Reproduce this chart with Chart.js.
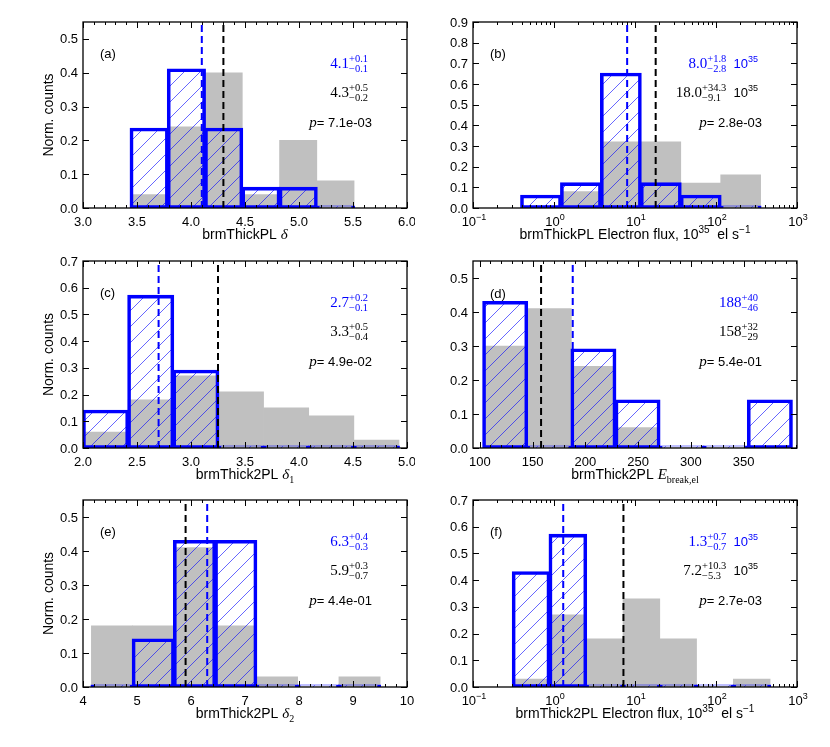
<!DOCTYPE html>
<html><head><meta charset="utf-8">
<script src="https://cdn.jsdelivr.net/npm/chart.js@4.4.0/dist/chart.umd.min.js"></script>
<style>
html,body{margin:0;padding:0;background:#fff;}
#wrap{position:relative;width:830px;height:747px;background:#fff;}
canvas{position:absolute;}
</style></head><body><div id="wrap">
<canvas id="pa" width="415" height="249" style="left:0;top:0;width:415px;height:249px"></canvas>
<canvas id="pb" width="415" height="249" style="left:415px;top:0;width:415px;height:249px"></canvas>
<canvas id="pc" width="415" height="249" style="left:0;top:249px;width:415px;height:249px"></canvas>
<canvas id="pd" width="415" height="249" style="left:415px;top:249px;width:415px;height:249px"></canvas>
<canvas id="pe" width="415" height="259" style="left:0;top:488px;width:415px;height:259px"></canvas>
<canvas id="pf" width="415" height="259" style="left:415px;top:488px;width:415px;height:259px"></canvas>
</div>
<script>
// ================= DATA =================
// (a) brmThickPL delta
const edgesA = [3.44, 3.785, 4.13, 4.475, 4.82, 5.165, 5.51];
const allA = [0.04, 0.24, 0.40, 0.04, 0.20, 0.08];
const selA = [0.235, 0.41, 0.235, 0.06, 0.06, 0];
const medianSelA = 4.1, medianAllA = 4.3;
const xTicksA = [3.0, 3.5, 4.0, 4.5, 5.0, 5.5, 6.0];
const xTickLabelsA = ['3.0','3.5','4.0','4.5','5.0','5.5','6.0'];
const yTicksA = [0, 0.1, 0.2, 0.3, 0.4, 0.5];
const statSelA = ['4.1', '+0.1', '\u22120.1'];
const statAllA = ['4.3', '+0.5', '\u22120.2'];
const pValA = '7.1e-03';

// (b) brmThickPL electron flux (log10 bin edges)
const logEdgesB = [-0.407, 0.086, 0.579, 1.072, 1.565, 2.058, 2.551];
const allB = [0, 0.08, 0.32, 0.32, 0.12, 0.16];
const selB = [0.06, 0.12, 0.65, 0.12, 0.06, 0];
const medianSelB = 8.0, medianAllB = 18.0;
const xTicksB = [0.1, 1, 10, 100, 1000];
const xTickExpB = ['\u22121', '0', '1', '2', '3'];
const yTicksB = [0, 0.1, 0.2, 0.3, 0.4, 0.5, 0.6, 0.7, 0.8, 0.9];
const statSelB = ['8.0', '+1.8', '\u22122.8'];
const statAllB = ['18.0', '+34.3', '\u22129.1'];
const pValB = '2.8e-03';

// (c) brmThick2PL delta_1
const edgesC = [2.0, 2.418, 2.836, 3.254, 3.672, 4.09, 4.508, 4.926];
const allC = [0.06, 0.18, 0.27, 0.21, 0.15, 0.12, 0.03];
const selC = [0.14, 0.57, 0.29, 0, 0, 0, 0];
const medianSelC = 2.7, medianAllC = 3.25;
const xTicksC = [2.0, 2.5, 3.0, 3.5, 4.0, 4.5, 5.0];
const xTickLabelsC = ['2.0','2.5','3.0','3.5','4.0','4.5','5.0'];
const yTicksC = [0, 0.1, 0.2, 0.3, 0.4, 0.5, 0.6, 0.7];
const statSelC = ['2.7', '+0.2', '\u22120.1'];
const statAllC = ['3.3', '+0.5', '\u22120.4'];
const pValC = '4.9e-02';

// (d) brmThick2PL E_break,el
const edgesD = [103.1, 144.9, 186.7, 228.5, 270.3, 312.1, 353.9, 395.7];
const allD = [0.30, 0.41, 0.24, 0.06, 0, 0, 0];
const selD = [0.43, 0, 0.29, 0.14, 0, 0, 0.14];
const medianSelD = 188, medianAllD = 158;
const xTicksD = [100, 150, 200, 250, 300, 350];
const xTickLabelsD = ['100','150','200','250','300','350'];
const yTicksD = [0, 0.1, 0.2, 0.3, 0.4, 0.5];
const statSelD = ['188', '+40', '\u221246'];
const statAllD = ['158', '+32', '\u221229'];
const pValD = '5.4e-01';

// (e) brmThick2PL delta_2
const edgesE = [4.155, 4.919, 5.683, 6.447, 7.211, 7.975, 8.739, 9.503];
const allE = [0.18, 0.18, 0.41, 0.18, 0.03, 0, 0.03];
const selE = [0, 0.14, 0.43, 0.43, 0, 0, 0];
const medianSelE = 6.3, medianAllE = 5.9;
const xTicksE = [4, 5, 6, 7, 8, 9, 10];
const xTickLabelsE = ['4','5','6','7','8','9','10'];
const yTicksE = [0, 0.1, 0.2, 0.3, 0.4, 0.5];
const statSelE = ['6.3', '+0.4', '\u22120.3'];
const statAllE = ['5.9', '+0.3', '\u22120.7'];
const pValE = '4.4e-01';

// (f) brmThick2PL electron flux (log10 bin edges)
const logEdgesF = [-0.51, -0.056, 0.398, 0.852, 1.306, 1.76, 2.214, 2.668];
const allF = [0.03, 0.27, 0.18, 0.33, 0.18, 0, 0.03];
const selF = [0.43, 0.57, 0, 0, 0, 0, 0];
const medianSelF = 1.3, medianAllF = 7.2;
const xTicksF = [0.1, 1, 10, 100, 1000];
const xTickExpF = ['\u22121', '0', '1', '2', '3'];
const yTicksF = [0, 0.1, 0.2, 0.3, 0.4, 0.5, 0.6, 0.7];
const statSelF = ['1.3', '+0.7', '\u22120.7'];
const statAllF = ['7.2', '+10.3', '\u22125.3'];
const pValF = '2.7e-03';

const panelLetters = ['(a)', '(b)', '(c)', '(d)', '(e)', '(f)'];
const yAxisTitle = 'Norm. counts';

// ================= STYLE / LAYOUT =================
const SANS = '"Liberation Sans", Arial, Helvetica, sans-serif';
const SERIF = '"Liberation Serif", "Times New Roman", serif';
const F = {
  tick: '13px ' + SANS, tickSup: '9px ' + SANS,
  title: '14px ' + SANS, titleSup: '10px ' + SANS,
  mathI: 'italic 15px ' + SERIF, mathSub: '10px ' + SERIF,
  num: '15px ' + SERIF, script: '10.5px ' + SERIF,
  ann: '13px ' + SANS, annSup: '9px ' + SANS,
  pI: 'italic 15px ' + SERIF
};
const BLUE = '#0000ff', GREY = '#c0c0c0';

function titleDelta(prefix, sub) {
  const r = [{t: prefix, font: F.title}, {t: '\u03b4', font: F.mathI}];
  if (sub) r.push({t: sub, font: F.mathSub, dy: 4});
  return r;
}
function titleFlux(prefix) {
  return [{t: prefix + ' Electron flux, 10', font: F.title}, {t: '35', font: F.titleSup, dy: -6},
          {t: '  el s', font: F.title}, {t: '\u22121', font: F.titleSup, dy: -6}];
}

const panels = [
  {id: 'pa', log: false, xmin: 3.0, xmax: 6.0, ymax: 0.55, edges: edgesA, all: allA, sel: selA,
   medSel: medianSelA, medAll: medianAllA, xTicks: xTicksA, xLabels: xTickLabelsA, minor: 0.1, yTicks: yTicksA,
   statSel: statSelA, statAll: statAllA, pVal: pValA, flux: false, letter: panelLetters[0],
   title: titleDelta('brmThickPL ', ''), pad: {left: 83, top: 22, right: 8, bottom: 41}, ylabel: true},
  {id: 'pb', log: true, xmin: 0.1, xmax: 1000, ymax: 0.9, edges: logEdgesB, all: allB, sel: selB,
   medSel: medianSelB, medAll: medianAllB, xTicks: xTicksB, xExp: xTickExpB, yTicks: yTicksB,
   statSel: statSelB, statAll: statAllB, pVal: pValB, flux: true, letter: panelLetters[1],
   title: titleFlux('brmThickPL'), pad: {left: 58, top: 22, right: 33, bottom: 41}, ylabel: false},
  {id: 'pc', log: false, xmin: 2.0, xmax: 5.0, ymax: 0.7, edges: edgesC, all: allC, sel: selC,
   medSel: medianSelC, medAll: medianAllC, xTicks: xTicksC, xLabels: xTickLabelsC, minor: 0.1, yTicks: yTicksC,
   statSel: statSelC, statAll: statAllC, pVal: pValC, flux: false, letter: panelLetters[2],
   title: titleDelta('brmThick2PL ', '1'), pad: {left: 83, top: 12, right: 8, bottom: 50}, ylabel: true},
  {id: 'pd', log: false, xmin: 93.5, xmax: 400.5, ymax: 0.55, edges: edgesD, all: allD, sel: selD,
   medSel: medianSelD, medAll: medianAllD, xTicks: xTicksD, xLabels: xTickLabelsD, minor: 10, yTicks: yTicksD,
   statSel: statSelD, statAll: statAllD, pVal: pValD, flux: false, letter: panelLetters[3], letterDy: 1,
   title: [{t: 'brmThick2PL ', font: F.title}, {t: 'E', font: F.mathI}, {t: 'break,el', font: F.mathSub, dy: 4}],
   pad: {left: 58, top: 12, right: 33, bottom: 50}, ylabel: false},
  {id: 'pe', log: false, xmin: 4, xmax: 10, ymax: 0.55, edges: edgesE, all: allE, sel: selE,
   medSel: medianSelE, medAll: medianAllE, xTicks: xTicksE, xLabels: xTickLabelsE, minor: 0.2, yTicks: yTicksE,
   statSel: statSelE, statAll: statAllE, pVal: pValE, flux: false, letter: panelLetters[4],
   title: titleDelta('brmThick2PL ', '2'), pad: {left: 83, top: 12, right: 8, bottom: 60}, ylabel: true},
  {id: 'pf', log: true, xmin: 0.1, xmax: 1000, ymax: 0.7, edges: logEdgesF, all: allF, sel: selF,
   medSel: medianSelF, medAll: medianAllF, xTicks: xTicksF, xExp: xTickExpF, yTicks: yTicksF,
   statSel: statSelF, statAll: statAllF, pVal: pValF, flux: true, letter: panelLetters[5],
   title: titleFlux('brmThick2PL'), pad: {left: 58, top: 12, right: 33, bottom: 60}, ylabel: false}
];

// ================= HELPERS =================
function runsWidth(ctx, runs) {
  let w = 0;
  for (const r of runs) {
    ctx.font = r.font;
    if (r.stack) w += Math.max(ctx.measureText(r.sup).width, ctx.measureText(r.sub).width);
    else w += ctx.measureText(r.t).width;
  }
  return w;
}
function drawRuns(ctx, runs, x, y, align, color) {
  const w = runsWidth(ctx, runs);
  let cx = align === 'right' ? x - w : (align === 'center' ? x - w / 2 : x);
  ctx.fillStyle = color; ctx.textBaseline = 'alphabetic'; ctx.textAlign = 'left';
  for (const r of runs) {
    ctx.font = r.font;
    if (r.stack) {
      ctx.fillText(r.sup, cx, y - 6);
      ctx.fillText(r.sub, cx, y + 4);
      cx += Math.max(ctx.measureText(r.sup).width, ctx.measureText(r.sub).width);
    } else {
      ctx.fillText(r.t, cx, y + (r.dy || 0));
      cx += ctx.measureText(r.t).width;
    }
  }
}
function statRuns(stat, flux) {
  const r = [{t: stat[0], font: F.num}, {stack: true, sup: stat[1], sub: stat[2], font: F.script}];
  if (flux) { r.push({t: '  10', font: F.ann}); r.push({t: '35', font: F.annSup, dy: -6}); }
  return r;
}
function makeHatch(ctx) {
  const c = document.createElement('canvas'); c.width = 16; c.height = 16;
  const g = c.getContext('2d');
  g.strokeStyle = 'rgba(0,0,255,0.75)'; g.lineWidth = 0.8;
  for (const x0 of [-16, 0, 16]) { g.beginPath(); g.moveTo(x0, 16); g.lineTo(x0 + 16, 0); g.stroke(); }
  return ctx.createPattern(c, 'repeat');
}

const decorPlugin = {
  id: 'decor',
  afterDraw(chart) {
    const s = chart.config.options.plugins.decor.spec;
    const ctx = chart.ctx, a = chart.chartArea;
    const xs = chart.scales.x, ys = chart.scales.y;
    ctx.save();
    // frame
    ctx.strokeStyle = '#000'; ctx.lineWidth = 1.3;
    ctx.strokeRect(a.left, a.top, a.right - a.left, a.bottom - a.top);
    // ticks
    ctx.lineWidth = 1;
    const vline = (p, len) => {
      ctx.beginPath(); ctx.moveTo(p, a.bottom); ctx.lineTo(p, a.bottom - len);
      ctx.moveTo(p, a.top); ctx.lineTo(p, a.top + len); ctx.stroke();
    };
    const hline = (p, len) => {
      ctx.beginPath(); ctx.moveTo(a.left, p); ctx.lineTo(a.left + len, p);
      ctx.moveTo(a.right, p); ctx.lineTo(a.right - len, p); ctx.stroke();
    };
    for (const v of s.xTicks) vline(Math.round(xs.getPixelForValue(v)) + 0.5, 6);
    if (s.log) {
      for (let d = -1; d < 3; d++) for (let m = 2; m <= 9; m++) vline(Math.round(xs.getPixelForValue(m * Math.pow(10, d))) + 0.5, 3);
    } else {
      const start = Math.ceil(s.xmin / s.minor - 1e-6);
      const end = Math.floor(s.xmax / s.minor + 1e-6);
      for (let k = start; k <= end; k++) vline(Math.round(xs.getPixelForValue(k * s.minor)) + 0.5, 3);
    }
    for (const v of s.yTicks) hline(Math.round(ys.getPixelForValue(v)) + 0.5, 6);

    // y tick labels
    ctx.fillStyle = '#000'; ctx.font = F.tick; ctx.textAlign = 'right'; ctx.textBaseline = 'middle';
    for (const v of s.yTicks) ctx.fillText(v.toFixed(1), a.left - 5, ys.getPixelForValue(v) + 1);
    // x tick labels
    if (s.log) {
      s.xTicks.forEach((v, i) => {
        const runs = [{t: '10', font: F.tick}, {t: s.xExp[i], font: F.tickSup, dy: -6}];
        drawRuns(ctx, runs, xs.getPixelForValue(v) + 1, a.bottom + 18, 'center', '#000');
      });
    } else {
      ctx.textAlign = 'center'; ctx.textBaseline = 'alphabetic'; ctx.font = F.tick;
      s.xTicks.forEach((v, i) => ctx.fillText(s.xLabels[i], xs.getPixelForValue(v), a.bottom + 18));
    }
    // x title
    drawRuns(ctx, s.title, (a.left + a.right) / 2, a.bottom + 31, 'center', '#000');
    // y title
    if (s.ylabel) {
      ctx.save(); ctx.translate(49, (a.top + a.bottom) / 2); ctx.rotate(-Math.PI / 2);
      ctx.font = F.title; ctx.textAlign = 'center'; ctx.textBaseline = 'middle'; ctx.fillStyle = '#000';
      ctx.fillText(yAxisTitle, 0, 0); ctx.restore();
    }
    // panel letter
    ctx.font = F.ann; ctx.textAlign = 'left'; ctx.textBaseline = 'middle'; ctx.fillStyle = '#000';
    ctx.fillText(s.letter, a.left + 17, a.top + 32 + (s.letterDy || 0));
    // stats
    drawRuns(ctx, statRuns(s.statSel, s.flux), a.left + 285, a.top + 46, 'right', BLUE);
    drawRuns(ctx, statRuns(s.statAll, s.flux), a.left + 285, a.top + 75, 'right', '#000');
    drawRuns(ctx, [{t: 'p', font: F.pI}, {t: '= ' + s.pVal, font: F.ann}], a.left + 289, a.top + 105, 'right', '#000');
    ctx.restore();
  }
};

// ================= BUILD CHARTS =================
for (const s of panels) {
  const canvas = document.getElementById(s.id);
  const ctx = canvas.getContext('2d');
  const centers = s.edges.slice(0, -1).map((l, i) => {
    const r = s.edges[i + 1];
    return s.log ? Math.pow(10, (l + r) / 2) : (l + r) / 2;
  });
  const twoTicks = sc => { sc.ticks = [{value: sc.min}, {value: sc.max}]; };
  new Chart(ctx, {
    type: 'bar',
    data: {
      datasets: [
        {type: 'line', label: 'median (selected)', data: [{x: s.medSel, y: 0}, {x: s.medSel, y: s.ymax}],
         borderColor: BLUE, borderWidth: 2, borderDash: [7, 4], pointRadius: 0, fill: false},
        {type: 'line', label: 'median (all)', data: [{x: s.medAll, y: 0}, {x: s.medAll, y: s.ymax}],
         borderColor: '#000', borderWidth: 2, borderDash: [7, 4], pointRadius: 0, fill: false},
        {label: 'selected', data: centers.map((x, i) => ({x, y: s.sel[i]})),
         backgroundColor: makeHatch(ctx), borderColor: BLUE, borderWidth: 1.8, borderSkipped: false,
         inflateAmount: 0.9, minBarLength: 1.5, grouped: false, barPercentage: 1, categoryPercentage: 1},
        {label: 'all', data: centers.map((x, i) => ({x, y: s.all[i]})),
         backgroundColor: GREY, borderWidth: 0, grouped: false, barPercentage: 1, categoryPercentage: 1}
      ]
    },
    options: {
      responsive: false, animation: false, events: [],
      layout: {padding: s.pad},
      scales: {
        x: {type: s.log ? 'logarithmic' : 'linear', min: s.xmin, max: s.xmax, offset: false, display: false, afterBuildTicks: twoTicks},
        y: {type: 'linear', min: 0, max: s.ymax, display: false, afterBuildTicks: twoTicks}
      },
      plugins: {legend: {display: false}, tooltip: {enabled: false}, decor: {spec: s}}
    },
    plugins: [decorPlugin]
  });
}
</script>
</body></html>
